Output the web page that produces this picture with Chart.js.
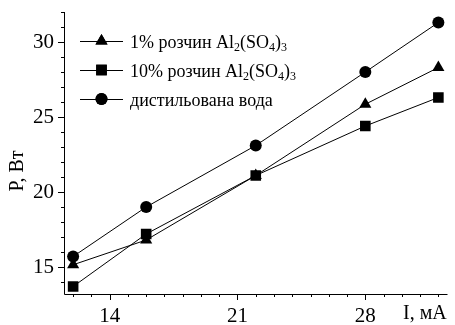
<!DOCTYPE html>
<html>
<head>
<meta charset="utf-8">
<script src="https://cdn.jsdelivr.net/npm/chart.js@4/dist/chart.umd.min.js"></script>
<style>
  html, body { margin: 0; padding: 0; background: #fff; }
  #wrap { width: 455px; height: 325px; }
</style>
</head>
<body>
<div id="wrap"><canvas id="chart" width="455" height="325"></canvas></div>
<script>
// values
const currents = [12, 16, 22, 28, 32];          // I, мА
const sol1 = [15.15, 16.8, 21.1, 25.85, 28.3];  // 1% розчин Al2(SO4)3
const sol10 = [13.7, 17.2, 21.1, 24.4, 26.3];   // 10% розчин Al2(SO4)3
const water = [15.7, 19.0, 23.1, 28.0, 31.3];   // дистильована вода
const xTicks = [14, 21, 28];
const yTicks = [15, 20, 25, 30];

const serif = "'Liberation Serif', 'Times New Roman', serif";

function pts(ys) {
  return currents.map((x, i) => ({ x, y: ys[i] }));
}

function series(label, ys, style, radius) {
  return {
    label,
    data: pts(ys),
    borderColor: "#000",
    backgroundColor: "#000",
    borderWidth: 1,
    pointStyle: style,
    pointRadius: radius,
    pointBorderWidth: 0,
    tension: 0,
  };
}

// legend with real subscripts
const legendRows = [
  { style: "triangle", parts: ["1% розчин Al", "_2", "(SO", "_4", ")", "_3"] },
  { style: "rect", parts: ["10% розчин Al", "_2", "(SO", "_4", ")", "_3"] },
  { style: "circle", parts: ["дистильована вода"] },
];

const decorPlugin = {
  id: "decor",
  afterDraw(chart) {
    const { ctx, chartArea } = chart;
    const xs = chart.scales.x, ys = chart.scales.y;
    ctx.save();
    ctx.strokeStyle = "#000";
    ctx.lineWidth = 1;

    // spines
    ctx.beginPath();
    ctx.moveTo(chartArea.left + 0.5, chartArea.top);
    ctx.lineTo(chartArea.left + 0.5, chartArea.bottom + 0.5);
    ctx.lineTo(chartArea.right, chartArea.bottom + 0.5);
    ctx.stroke();

    // ticks, major and minor
    ctx.beginPath();
    for (let v = 12; v <= 32; v++) {
      const px = Math.round(xs.getPixelForValue(v)) + 0.5;
      const len = xTicks.includes(v) ? 6 : 3;
      ctx.moveTo(px, chartArea.bottom);
      ctx.lineTo(px, chartArea.bottom + len);
    }
    for (let v = 14; v <= 32; v++) {
      const py = Math.round(ys.getPixelForValue(v)) + 0.5;
      const len = yTicks.includes(v) ? 6 : 3;
      ctx.moveTo(chartArea.left, py);
      ctx.lineTo(chartArea.left - len, py);
    }
    ctx.stroke();

    // axis titles
    ctx.fillStyle = "#000";
    ctx.font = "20px " + serif;
    ctx.textBaseline = "middle";
    ctx.textAlign = "left";
    ctx.fillText("I, мА", 403, 314);
    ctx.save();
    ctx.translate(18, 171);
    ctx.rotate(-Math.PI / 2);
    ctx.textAlign = "center";
    ctx.fillText("P, Вт", 0, 0);
    ctx.restore();

    // legend
    const rowY = [41, 70, 99];
    legendRows.forEach((row, i) => {
      const y = rowY[i];
      ctx.beginPath();
      ctx.moveTo(80, y + 0.5);
      ctx.lineTo(123, y + 0.5);
      ctx.stroke();
      const r = row.style === "rect" ? 7.5 : row.style === "triangle" ? 7 : 6;
      Chart.helpers.drawPoint(ctx, { pointStyle: row.style, radius: r, borderWidth: 0 }, 101.5, y);
      ctx.fill();
      let x = 130;
      row.parts.forEach((p) => {
        if (p.startsWith("_")) {
          ctx.font = "12px " + serif;
          ctx.fillText(p.slice(1), x, y + 7);
          x += ctx.measureText(p.slice(1)).width;
        } else {
          ctx.font = "18px " + serif;
          ctx.fillText(p, x, y + 2);
          x += ctx.measureText(p).width;
        }
      });
    });
    ctx.restore();
  },
};

function noPad(s) {
  s.paddingTop = 0;
  s.paddingBottom = 0;
  s.paddingLeft = 0;
  s.paddingRight = 0;
}

new Chart(document.getElementById("chart"), {
  type: "line",
  data: {
    datasets: [
      series("1% розчин Al2(SO4)3", sol1, "triangle", 7),
      series("10% розчин Al2(SO4)3", sol10, "rect", 7.5),
      series("дистильована вода", water, "circle", 6),
    ],
  },
  options: {
    responsive: false,
    animation: false,
    layout: { padding: { top: 12, right: 0, left: 0, bottom: 0 } },
    plugins: { legend: { display: false }, tooltip: { enabled: false } },
    scales: {
      x: {
        type: "linear",
        min: 11.5,
        max: 32.5,
        grid: { display: false, drawTicks: false },
        border: { display: false },
        afterBuildTicks: (s) => { s.ticks = xTicks.map((v) => ({ value: v })); },
        afterFit: (s) => { s.height = 31; noPad(s); },
        ticks: { color: "#000", padding: 10, maxRotation: 0, font: { family: serif, size: 21 } },
      },
      y: {
        type: "linear",
        min: 13.2,
        max: 32,
        grid: { display: false, drawTicks: false },
        border: { display: false },
        afterBuildTicks: (s) => { s.ticks = yTicks.map((v) => ({ value: v })); },
        afterFit: (s) => { s.width = 64; noPad(s); },
        ticks: { color: "#000", padding: 10, font: { family: serif, size: 21 } },
      },
    },
  },
  plugins: [decorPlugin],
});
</script>
</body>
</html>
